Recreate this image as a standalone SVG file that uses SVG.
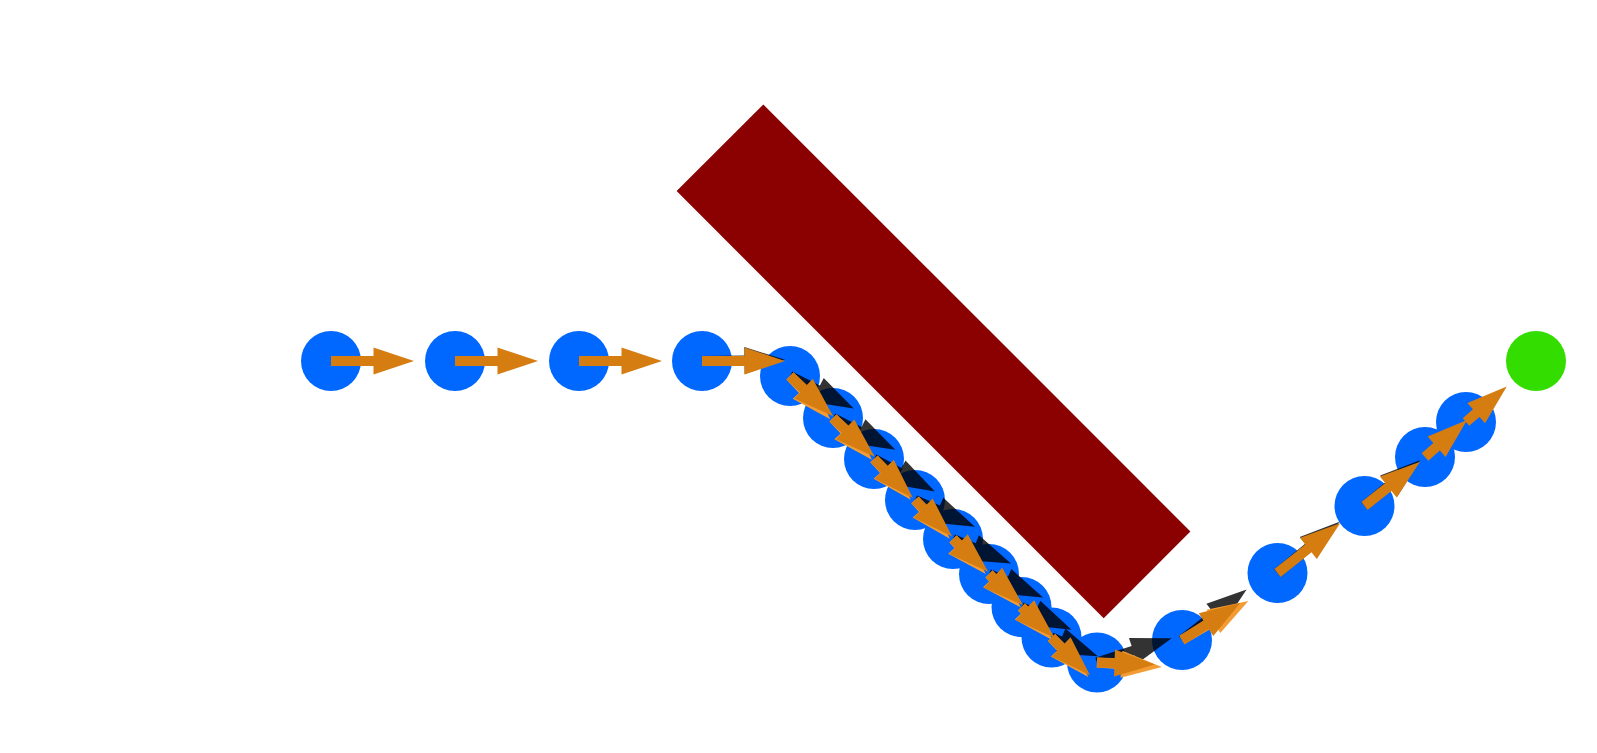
<svg xmlns="http://www.w3.org/2000/svg" width="1597" height="753" viewBox="0 0 1597 753">
<style>
.bg{fill:#ffffff}
.obs{fill:#8b0000}
.pos{fill:#0067ff}
.goal{fill:#33dd00}
.vel{fill:#d67d12}
.vel2{fill:#f39c34}
.frc{fill:#000000;fill-opacity:0.8}
</style>
<rect class="bg" x="0" y="0" width="1597" height="753"/>
<g id="obstacle">
<rect class="obs" x="-302" y="-61.3" width="604" height="122.6" transform="translate(933.5,361.3) rotate(45)"/>
</g>
<g id="positions">
<g id="p1"><circle class="pos" cx="331" cy="361" r="30"/></g>
<g id="p2"><circle class="pos" cx="455" cy="361" r="30"/></g>
<g id="p3"><circle class="pos" cx="579" cy="361" r="30"/></g>
<g id="p4"><circle class="pos" cx="702" cy="361" r="30"/></g>
<g id="p5"><circle class="pos" cx="790" cy="376" r="30"/></g>
<g id="p6"><circle class="pos" cx="833" cy="418" r="30"/></g>
<g id="p7"><circle class="pos" cx="874" cy="459" r="30"/></g>
<g id="p8"><circle class="pos" cx="915" cy="500" r="30"/></g>
<g id="p9"><circle class="pos" cx="953" cy="539" r="30"/></g>
<g id="p10"><circle class="pos" cx="989" cy="574" r="30"/></g>
<g id="p11"><circle class="pos" cx="1021.5" cy="607" r="30"/></g>
<g id="p12"><circle class="pos" cx="1051.5" cy="637.5" r="30"/></g>
<g id="p13"><circle class="pos" cx="1097" cy="662.5" r="30"/></g>
<g id="p14"><circle class="pos" cx="1182" cy="640" r="30"/></g>
<g id="p15"><circle class="pos" cx="1277.5" cy="573" r="30"/></g>
<g id="p16"><circle class="pos" cx="1364.5" cy="506" r="30"/></g>
<g id="p17"><circle class="pos" cx="1425" cy="457" r="30"/></g>
<g id="p18"><circle class="pos" cx="1466" cy="422" r="30"/></g>
</g>
<g id="goal"><circle class="goal" cx="1536" cy="361" r="30"/></g>
<g id="connectors">
<g id="force-arrows" class="frc">
<path transform="translate(702,361) rotate(-0.8)" d="M0,-5H42.5V-13.5L83,0L42.5,13.5V5H0Z"/>
<path transform="translate(790,376) rotate(27)" d="M0,-5H31V-13.5L71.5,0L31,13.5V5H0Z"/>
<path transform="translate(833,418) rotate(27)" d="M0,-5H29.5V-13.5L70,0L29.5,13.5V5H0Z"/>
<path transform="translate(874,459) rotate(28)" d="M0,-5H28.5V-13.5L69,0L28.5,13.5V5H0Z"/>
<path transform="translate(915,500) rotate(24)" d="M0,-5H25V-13.5L65.5,0L25,13.5V5H0Z"/>
<path transform="translate(953,539) rotate(23)" d="M0,-5H22.5V-13.5L63,0L22.5,13.5V5H0Z"/>
<path transform="translate(989,574) rotate(23.5)" d="M0,-5H18.5V-13.5L59,0L18.5,13.5V5H0Z"/>
<path transform="translate(1021.5,607) rotate(24.5)" d="M0,-5H14.5V-13.5L55,0L14.5,13.5V5H0Z"/>
<path transform="translate(1051.5,637.5) rotate(22)" d="M0,-5H9.5V-13.5L50,0L9.5,13.5V5H0Z"/>
<path transform="translate(1097,662.5) rotate(-18)" d="M0,-5H38V-13.5L78.5,0L38,13.5V5H0Z"/>
<path transform="translate(1182,640) rotate(-38)" d="M0,-5H41.5V-13.5L82,0L41.5,13.5V5H0Z"/>
<path transform="translate(1277.5,573) rotate(-39.6)" d="M0,-5H40V-13.5L80.5,0L40,13.5V5H0Z"/>
<path transform="translate(1364.5,506) rotate(-39.5)" d="M0,-5H31.5V-13.5L72,0L31.5,13.5V5H0Z"/>
</g>
<g id="velocity-arrows-alt" class="vel2">
<path transform="translate(790,376) rotate(47)" d="M0,-5H18.5V-13.5L59,0L18.5,13.5V5H0Z"/>
<path transform="translate(833,418) rotate(47)" d="M0,-5H16.5V-13.5L57,0L16.5,13.5V5H0Z"/>
<path transform="translate(874,459) rotate(48)" d="M0,-5H14.5V-13.5L55,0L14.5,13.5V5H0Z"/>
<path transform="translate(915,500) rotate(48)" d="M0,-5H11.5V-13.5L52,0L11.5,13.5V5H0Z"/>
<path transform="translate(953,539) rotate(47)" d="M0,-5H7.5V-13.5L48,0L7.5,13.5V5H0Z"/>
<path transform="translate(989,574) rotate(46.5)" d="M0,-5H5.5V-13.5L46,0L5.5,13.5V5H0Z"/>
<path transform="translate(1021.5,607) rotate(47)" d="M0,-5H4.5V-13.5L45,0L4.5,13.5V5H0Z"/>
<path transform="translate(1051.5,637.5) rotate(47)" d="M0,-5H13.5V-13.5L54,0L13.5,13.5V5H0Z"/>
<path transform="translate(1097,662.5) rotate(4)" d="M0,-5H24.5V-13.5L65,0L24.5,13.5V5H0Z"/>
<path transform="translate(1182,640) rotate(-30.5)" d="M0,-5H36.5V-13.5L77,0L36.5,13.5V5H0Z"/>
</g>
<g id="velocity-arrows" class="vel">
<path transform="translate(331,361) rotate(0)" d="M0,-5H42.5V-13.5L83,0L42.5,13.5V5H0Z"/>
<path transform="translate(455,361) rotate(0)" d="M0,-5H42.5V-13.5L83,0L42.5,13.5V5H0Z"/>
<path transform="translate(579,361) rotate(0)" d="M0,-5H42.5V-13.5L83,0L42.5,13.5V5H0Z"/>
<path transform="translate(702,361) rotate(0)" d="M0,-5H42.5V-13.5L83,0L42.5,13.5V5H0Z"/>
<path transform="translate(790,376) rotate(43)" d="M0,-5H18.5V-13.5L59,0L18.5,13.5V5H0Z"/>
<path transform="translate(833,418) rotate(43)" d="M0,-5H16.5V-13.5L57,0L16.5,13.5V5H0Z"/>
<path transform="translate(874,459) rotate(45)" d="M0,-5H14.5V-13.5L55,0L14.5,13.5V5H0Z"/>
<path transform="translate(915,500) rotate(44.5)" d="M0,-5H11.5V-13.5L52,0L11.5,13.5V5H0Z"/>
<path transform="translate(953,539) rotate(43)" d="M0,-5H7.5V-13.5L48,0L7.5,13.5V5H0Z"/>
<path transform="translate(989,574) rotate(42.5)" d="M0,-5H5.5V-13.5L46,0L5.5,13.5V5H0Z"/>
<path transform="translate(1021.5,607) rotate(43)" d="M0,-5H4.5V-13.5L45,0L4.5,13.5V5H0Z"/>
<path transform="translate(1051.5,637.5) rotate(44.5)" d="M0,-5H13.5V-13.5L54,0L13.5,13.5V5H0Z"/>
<path transform="translate(1097,662.5) rotate(2)" d="M0,-5H17.5V-13.5L58,0L17.5,13.5V5H0Z"/>
<path transform="translate(1182,640) rotate(-32.5)" d="M0,-5H28.5V-13.5L69,0L28.5,13.5V5H0Z"/>
<path transform="translate(1277.5,573) rotate(-38.5)" d="M0,-5H39.5V-13.5L80,0L39.5,13.5V5H0Z"/>
<path transform="translate(1364.5,506) rotate(-38.6)" d="M0,-5H30.5V-13.5L71,0L30.5,13.5V5H0Z"/>
<path transform="translate(1425,457) rotate(-41.4)" d="M0,-5H15.5V-13.5L56,0L15.5,13.5V5H0Z"/>
<path transform="translate(1466,422) rotate(-41)" d="M0,-5H13.5V-13.5L54,0L13.5,13.5V5H0Z"/>
</g>
</g>
</svg>
